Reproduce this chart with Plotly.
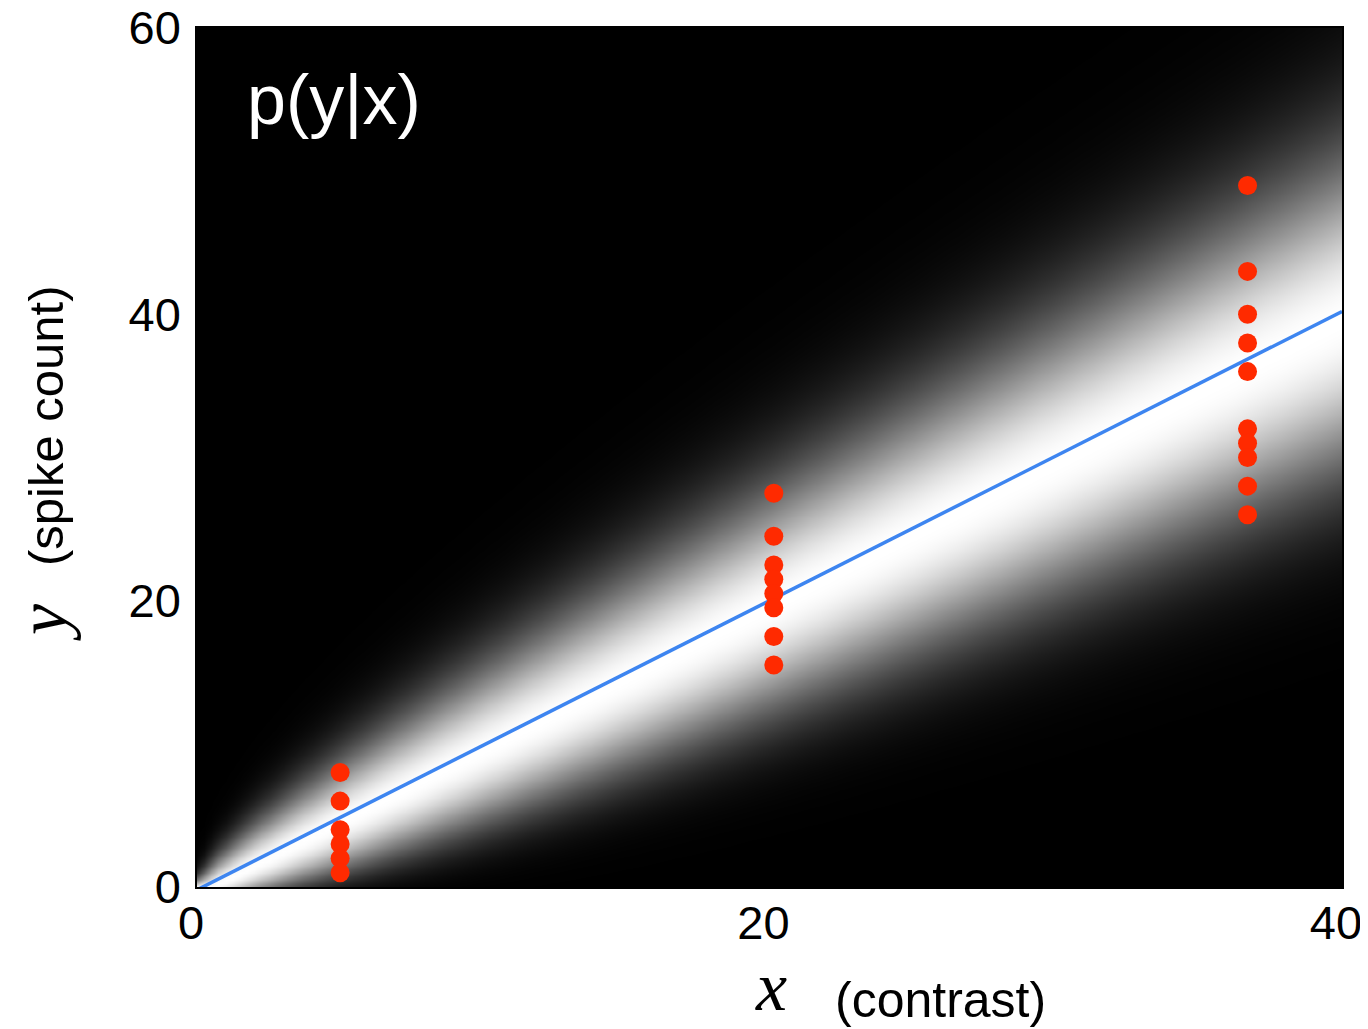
import math
import numpy as np
import plotly.graph_objects as go

# ---- data ----
x_dots_a = [5.0] * 6
y_dots_a = [8, 6, 4, 3, 2, 1]
x_dots_b = [20.15] * 8
y_dots_b = [27.5, 24.5, 22.5, 21.5, 20.5, 19.5, 17.5, 15.5]
x_dots_c = [36.7] * 10
y_dots_c = [49, 43, 40, 38, 36, 32, 31, 30, 28, 26]
line_x = [0.0, 40.0]
line_y = [-0.2, 40.2]
x_ticks = [0, 20, 40]
y_ticks = [0, 20, 40, 60]

# ---- model p(y|x): Poisson likelihood, normalised per column ----
xg = np.arange(0.0, 40.0001, 0.25)
yg = np.arange(0.0, 60.0001, 0.25)
lg = np.array([math.lgamma(v + 1.0) for v in yg])
Z = np.zeros((len(yg), len(xg)))
for j, xv in enumerate(xg):
    lam = max(xv, 0.08)
    logp = yg * math.log(lam) - lam - lg
    Z[:, j] = np.exp((logp - logp.max()) * 0.66)

# page layout (page has an 8px body margin)
OFF = 8
W, H = 1360, 1021
PL, PR, PT, PB = 197, 1342, 28, 887  # plot area in page pixels


def px(xp):
    return (xp - PL) / (PR - PL)


def py(yp):
    return (PB - yp) / (PB - PT)


fig = go.Figure()
fig.add_trace(go.Heatmap(x=xg, y=yg, z=Z, colorscale=[[0, "black"], [1, "white"]],
                         zmin=0, zmax=1, showscale=False, zsmooth="best", hoverinfo="skip"))
fig.add_trace(go.Scatter(x=line_x, y=line_y, mode="lines",
                         line=dict(color="#3D85F0", width=3.5), showlegend=False))
for xs, ys in [(x_dots_a, y_dots_a), (x_dots_b, y_dots_b), (x_dots_c, y_dots_c)]:
    fig.add_trace(go.Scatter(x=xs, y=ys, mode="markers",
                             marker=dict(color="#FF2A00", size=19, line=dict(width=0)),
                             showlegend=False))

axis_font = dict(family="Liberation Sans, Arial, sans-serif", size=47, color="black")
fig.update_xaxes(range=[0, 40], tickvals=x_ticks, ticktext=[str(t) for t in x_ticks],
                 showgrid=False, zeroline=False, showline=True, linecolor="black",
                 linewidth=1.5, mirror=True, ticks="", tickfont=axis_font,
                 ticklabelstandoff=-6, ticklabelshift=-6, automargin=False,
                 ticklabeloverflow="allow")
fig.update_yaxes(range=[0, 60], tickvals=y_ticks, ticktext=[str(t) for t in y_ticks],
                 showgrid=False, zeroline=False, showline=True, linecolor="black",
                 linewidth=1.5, mirror=True, ticks="", tickfont=axis_font,
                 ticklabelstandoff=5, automargin=False, ticklabeloverflow="allow")

fig.add_annotation(x=px(245), y=py(100), xref="paper", yref="paper", xanchor="left", yanchor="middle",
                   text="p(y|x)", showarrow=False,
                   font=dict(family="Liberation Sans, Arial, sans-serif", size=70, color="white"))
fig.add_annotation(x=px(771), y=py(1027), xref="paper", yref="paper",
                   xanchor="center", yanchor="bottom", showarrow=False,
                   text="<i>x</i>",
                   font=dict(family="Liberation Serif, Times New Roman, serif", size=70, color="black"))
fig.add_annotation(x=px(940), y=py(1000), xref="paper", yref="paper",
                   xanchor="center", yanchor="middle", showarrow=False,
                   text="(contrast)",
                   font=dict(family="Liberation Sans, Arial, sans-serif", size=50, color="black"))
fig.add_annotation(x=px(42), y=py(622), xref="paper", yref="paper",
                   xanchor="center", yanchor="middle", showarrow=False, textangle=-90,
                   text="<i>y</i>",
                   font=dict(family="Liberation Serif, Times New Roman, serif", size=70, color="black"))
fig.add_annotation(x=px(46), y=py(425), xref="paper", yref="paper",
                   xanchor="center", yanchor="middle", showarrow=False, textangle=-90,
                   text="(spike count)",
                   font=dict(family="Liberation Sans, Arial, sans-serif", size=49, color="black"))

fig.update_layout(width=W, height=H,
                  margin=dict(l=PL - OFF, r=OFF + W - PR, t=PT - OFF, b=OFF + H - PB, autoexpand=False),
                  paper_bgcolor="white", plot_bgcolor="black")
fig.write_html("out.html")
